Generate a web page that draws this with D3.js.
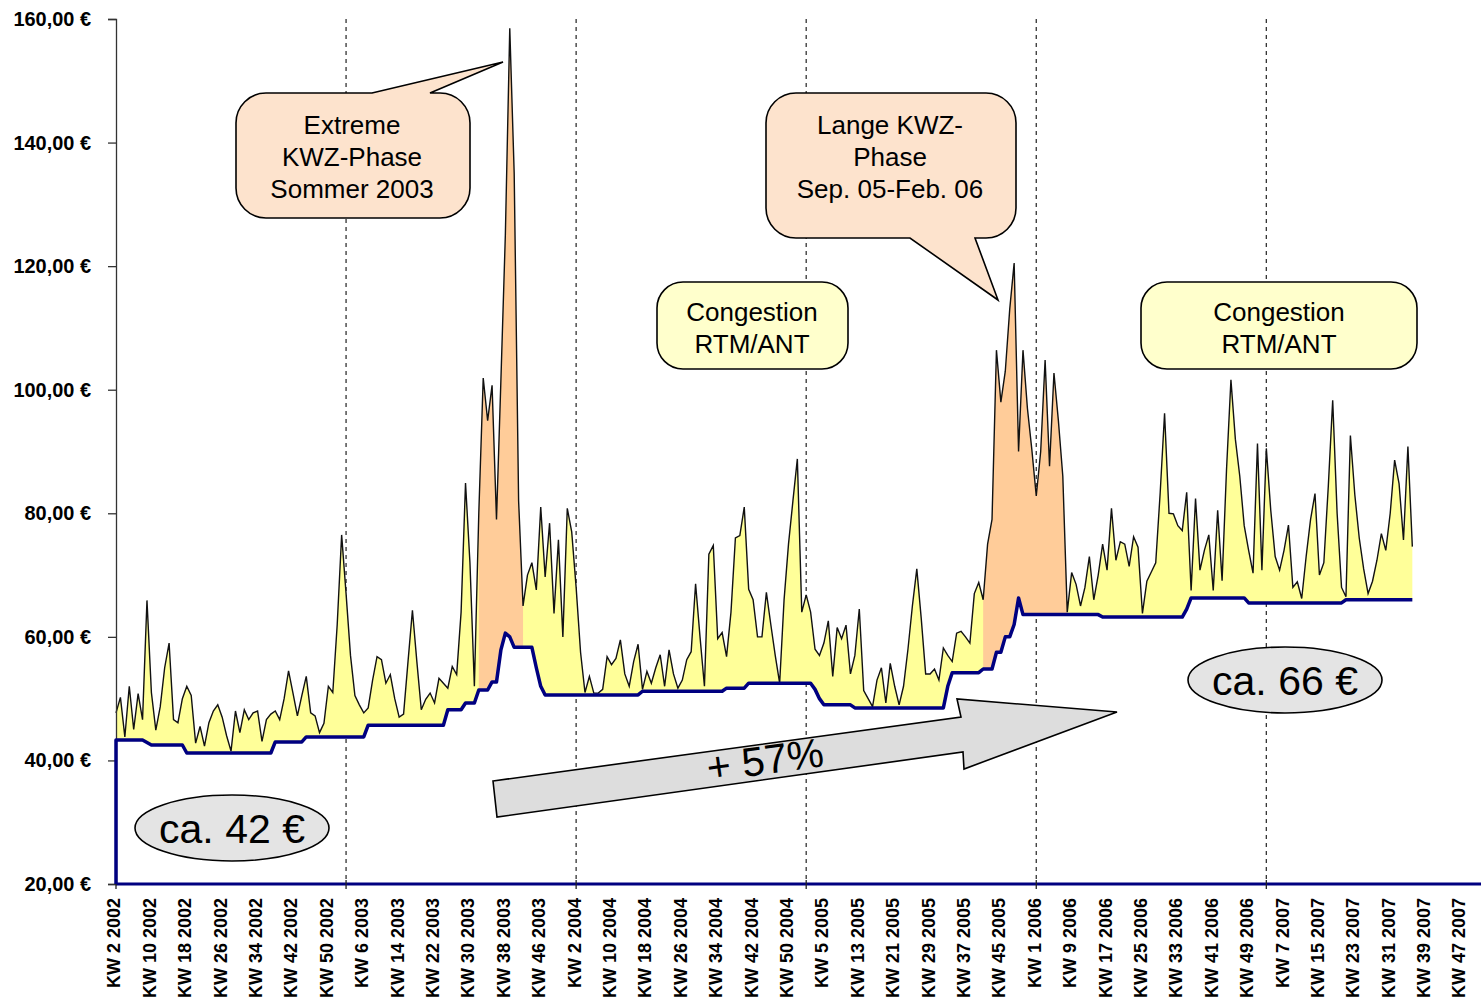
<!DOCTYPE html>
<html>
<head>
<meta charset="utf-8">
<script src="https://d3js.org/d3.v7.min.js"></script>
<style>
  body { margin: 0; background: #fff; }
  text { font-family: "Liberation Sans", Arial, sans-serif; }
</style>
</head>
<body>
<div id="chart"></div>
<script>
// weekly prices, KW 2 2002 .. KW 36 2007 (one value per week)
var priceValues = [
  47.7, 50.2, 43.8, 52, 45, 50.8, 46.6, 65.9, 51, 44.9,
  48.7, 55, 59, 46.6, 46.1, 50, 52, 50.5, 42.8, 45.5,
  42.3, 46.1, 48, 49, 47, 44, 41.5, 48, 44.5, 48.2,
  46.6, 47.7, 48, 43.1, 46.6, 47.5, 48, 46.6, 50, 54.5,
  50.9, 47.2, 50.5, 53.6, 47.7, 47.2, 44.5, 46, 52, 51,
  62, 76.5, 67, 57, 50.5, 49, 47.7, 48.5, 53, 56.8,
  56.3, 52.5, 53.9, 50, 47, 47.5, 56, 64.3, 56, 48.2,
  49.9, 50.9, 49.3, 53.3, 52.5, 51.7, 55.2, 53.9, 64, 84.9,
  72, 52, 80, 101.9, 95, 100.7, 79, 101.6, 125, 158.5,
  135, 82, 65, 70, 72, 67.6, 81, 69.7, 78.4, 63.8,
  75.7, 60, 80.8, 77, 68, 57.5, 51, 53.6, 50.9, 50.9,
  51.5, 56.8, 55.5, 56.5, 59.5, 54, 52, 56, 58.8, 51.5,
  54.4, 52.5, 55, 57.1, 52, 57.9, 54, 51.7, 53, 56.3,
  57.6, 68.6, 60, 52, 73.4, 74.8, 59.7, 60.7, 56.8, 64,
  76, 76.4, 81, 67.7, 66, 60, 60, 67.2, 62, 57,
  52.5, 66, 75, 82, 88.8, 64, 66.8, 64, 58, 57,
  59, 62.6, 53.6, 61.5, 59.7, 61.9, 54, 57, 64.5, 51.3,
  50, 48.7, 53, 55, 49.3, 55.7, 52, 49, 52, 58,
  65, 71, 63, 54, 54, 54.8, 53, 58.2, 57, 56,
  60.6, 60.9, 60, 59, 67, 68.8, 66, 75, 79, 106.4,
  98, 103, 113, 120.5, 90, 106.4, 97, 90.3, 82.8, 90,
  104.8, 87.6, 102.7, 95, 86, 64, 70.4, 68.5, 65, 68,
  73, 66, 70, 75, 70.8, 80.8, 72.4, 75.4, 75, 71.4,
  76.2, 74.5, 63.8, 69, 70.5, 72, 83.2, 96.2, 80, 79.9,
  78, 77.2, 83.4, 67.5, 82.4, 70.8, 74, 76.5, 67.5, 80.5,
  69.1, 87, 101.6, 92, 86, 78, 74, 70.3, 91.3, 70.8,
  90.5, 80.5, 73, 70.8, 74, 78.1, 68, 68.9, 66.2, 73,
  79, 83.2, 70, 72, 84.3, 98.3, 80, 68, 66.5, 92.6,
  83, 76, 71, 67, 69, 72.4, 76.7, 74, 80, 88.6,
  84.8, 75.7, 90.8, 74.6
];

// base level (dark blue line), same weeks
var baseValues = [
  43.3, 43.3, 43.3, 43.3, 43.3, 43.3, 43.3, 42.9, 42.5, 42.5,
  42.5, 42.5, 42.5, 42.5, 42.5, 42.5, 41.2, 41.2, 41.2, 41.2,
  41.2, 41.2, 41.2, 41.2, 41.2, 41.2, 41.2, 41.2, 41.2, 41.2,
  41.2, 41.2, 41.2, 41.2, 41.2, 41.2, 43.0, 43.0, 43.0, 43.0,
  43.0, 43.0, 43.0, 43.8, 43.8, 43.8, 43.8, 43.8, 43.8, 43.8,
  43.8, 43.8, 43.8, 43.8, 43.8, 43.8, 43.8, 45.7, 45.7, 45.7,
  45.7, 45.7, 45.7, 45.7, 45.7, 45.7, 45.7, 45.7, 45.7, 45.7,
  45.7, 45.7, 45.7, 45.7, 45.7, 48.2, 48.2, 48.2, 48.2, 49.3,
  49.3, 49.3, 51.4, 51.4, 51.4, 52.7, 52.7, 57.9, 60.6, 60,
  58.3, 58.3, 58.3, 58.3, 58.3, 55, 52, 50.6, 50.6, 50.6,
  50.6, 50.6, 50.6, 50.6, 50.6, 50.6, 50.6, 50.6, 50.6, 50.6,
  50.6, 50.6, 50.6, 50.6, 50.6, 50.6, 50.6, 50.6, 50.6, 51.2,
  51.2, 51.2, 51.2, 51.2, 51.2, 51.2, 51.2, 51.2, 51.2, 51.2,
  51.2, 51.2, 51.2, 51.2, 51.2, 51.2, 51.2, 51.2, 51.7, 51.7,
  51.7, 51.7, 51.7, 52.5, 52.5, 52.5, 52.5, 52.5, 52.5, 52.5,
  52.5, 52.5, 52.5, 52.5, 52.5, 52.5, 52.5, 52.5, 51.5, 50,
  49.0, 49.0, 49.0, 49.0, 49.0, 49.0, 49.0, 48.5, 48.5, 48.5,
  48.5, 48.5, 48.5, 48.5, 48.5, 48.5, 48.5, 48.5, 48.5, 48.5,
  48.5, 48.5, 48.5, 48.5, 48.5, 48.5, 48.5, 48.5, 52, 54.2,
  54.2, 54.2, 54.2, 54.2, 54.2, 54.2, 54.8, 54.8, 54.8, 57.5,
  57.5, 60, 60, 62, 66.3, 63.6, 63.6, 63.6, 63.6, 63.6,
  63.6, 63.6, 63.6, 63.6, 63.6, 63.6, 63.6, 63.6, 63.6, 63.6,
  63.6, 63.6, 63.6, 63.2, 63.2, 63.2, 63.2, 63.2, 63.2, 63.2,
  63.2, 63.2, 63.2, 63.2, 63.2, 63.2, 63.2, 63.2, 63.2, 63.2,
  63.2, 63.2, 64.5, 66.3, 66.3, 66.3, 66.3, 66.3, 66.3, 66.3,
  66.3, 66.3, 66.3, 66.3, 66.3, 66.3, 65.5, 65.5, 65.5, 65.5,
  65.5, 65.5, 65.5, 65.5, 65.5, 65.5, 65.5, 65.5, 65.5, 65.5,
  65.5, 65.5, 65.5, 65.5, 65.5, 65.5, 65.5, 65.5, 66, 66,
  66, 66, 66, 66, 66, 66, 66, 66, 66, 66,
  66, 66, 66, 66
];

// KWZ phases (week index ranges drawn in orange)
var kwzPhases = [[82, 92], [196, 215]];

// category labels, every 8th week
var weekLabels = [
  "KW 2 2002", "KW 10 2002", "KW 18 2002", "KW 26 2002", "KW 34 2002", "KW 42 2002", "KW 50 2002",
  "KW 6 2003", "KW 14 2003", "KW 22 2003", "KW 30 2003", "KW 38 2003", "KW 46 2003",
  "KW 2 2004", "KW 10 2004", "KW 18 2004", "KW 26 2004", "KW 34 2004", "KW 42 2004", "KW 50 2004",
  "KW 5 2005", "KW 13 2005", "KW 21 2005", "KW 29 2005", "KW 37 2005", "KW 45 2005",
  "KW 1 2006", "KW 9 2006", "KW 17 2006", "KW 25 2006", "KW 33 2006", "KW 41 2006", "KW 49 2006",
  "KW 7 2007", "KW 15 2007", "KW 23 2007", "KW 31 2007", "KW 39 2007", "KW 47 2007"
];
var labelStep = 8;
var yearStarts = [52, 104, 156, 208, 260];
var yTicks = [20, 40, 60, 80, 100, 120, 140, 160];

var w = 1481;
var h = 1004;

var svg = d3.select("#chart")
  .append("svg")
  .attr("width", w)
  .attr("height", h)
  .style("background", "#fff");

var xScale = d3.scaleLinear()
  .domain([0, 304])
  .range([116, 1461]);

var yScale = d3.scaleLinear()
  .domain([20, 160])
  .range([884, 19]);

var rows = priceValues.map(function(p, i) {
  return { i: i, price: p, base: baseValues[i] };
});

// year separators (behind the areas)
svg.selectAll("line.year")
  .data(yearStarts)
  .enter()
  .append("line")
  .attr("class", "year")
  .attr("x1", function(d) { return xScale(d); })
  .attr("x2", function(d) { return xScale(d); })
  .attr("y1", yScale(160))
  .attr("y2", yScale(20))
  .attr("stroke", "#333")
  .attr("stroke-width", 1.3)
  .attr("stroke-dasharray", "4,4");

var area = d3.area()
  .x(function(d) { return xScale(d.i); })
  .y0(function(d) { return yScale(d.base); })
  .y1(function(d) { return yScale(d.price); });

svg.append("path")
  .datum(rows)
  .attr("d", area)
  .attr("fill", "#ffff99");

kwzPhases.forEach(function(ph) {
  svg.append("path")
    .datum(rows.slice(ph[0], ph[1] + 1))
    .attr("d", area)
    .attr("fill", "#ffcc99");
});

var priceLine = d3.line()
  .x(function(d) { return xScale(d.i); })
  .y(function(d) { return yScale(d.price); });

svg.append("path")
  .datum(rows)
  .attr("d", priceLine)
  .attr("fill", "none")
  .attr("stroke", "#111")
  .attr("stroke-width", 1.4);

// axes
var yAxis = d3.axisLeft(yScale)
  .tickValues(yTicks)
  .tickSize(8)
  .tickFormat("");

svg.append("g")
  .attr("transform", "translate(116,0)")
  .call(yAxis)
  .call(function(g) {
    g.select(".domain").attr("stroke", "#333").attr("stroke-width", 1.3);
    g.selectAll(".tick line").attr("stroke", "#333").attr("stroke-width", 1.3);
  });

svg.selectAll("text.ylab")
  .data(yTicks)
  .enter()
  .append("text")
  .attr("class", "ylab")
  .attr("transform", function(d) {
    return "translate(91," + (yScale(d) + 7) + ") scale(0.95,1)";
  })
  .attr("text-anchor", "end")
  .style("font-size", "21px")
  .style("font-weight", "bold")
  .text(function(d) { return d3.format(".2f")(d).replace(".", ",") + " €"; });

// x axis (dark blue, the base series runs along it)
svg.append("line")
  .attr("x1", xScale(0))
  .attr("x2", w)
  .attr("y1", yScale(20))
  .attr("y2", yScale(20))
  .attr("stroke", "#000080")
  .attr("stroke-width", 3);

svg.selectAll("line.xtick")
  .data([0].concat(yearStarts))
  .enter()
  .append("line")
  .attr("class", "xtick")
  .attr("x1", function(d) { return xScale(d); })
  .attr("x2", function(d) { return xScale(d); })
  .attr("y1", yScale(20) - 4)
  .attr("y2", yScale(20) + 5)
  .attr("stroke", "#222")
  .attr("stroke-width", 1.3);

svg.selectAll("text.xlab")
  .data(weekLabels)
  .enter()
  .append("text")
  .attr("class", "xlab")
  .attr("transform", function(d, i) {
    return "translate(" + (xScale(i * labelStep) - 2) + ",898) rotate(-90)";
  })
  .attr("text-anchor", "end")
  .attr("dy", "0.36em")
  .style("font-size", "18px")
  .style("font-weight", "bold")
  .text(function(d) { return d; });

// base level line
var baseLine = d3.line()
  .x(function(d) { return xScale(d.i); })
  .y(function(d) { return yScale(d.base); });

svg.append("path")
  .datum([{ i: 0, base: 20 }].concat(rows))
  .attr("d", baseLine)
  .attr("fill", "none")
  .attr("stroke", "#000080")
  .attr("stroke-width", 3.5)
  .attr("stroke-linejoin", "round");

// ---- annotations ----
function callout(x0, y0, x1, y1, r, ptr) {
  var p = "M" + (x0 + r) + "," + y0;
  if (ptr && ptr.side === "top") {
    p += "L" + ptr.a + "," + y0 + "L" + ptr.tx + "," + ptr.ty + "L" + ptr.b + "," + y0;
  }
  p += "L" + (x1 - r) + "," + y0;
  p += "A" + r + "," + r + " 0 0 1 " + x1 + "," + (y0 + r);
  p += "L" + x1 + "," + (y1 - r);
  p += "A" + r + "," + r + " 0 0 1 " + (x1 - r) + "," + y1;
  if (ptr && ptr.side === "bottom") {
    p += "L" + ptr.b + "," + y1 + "L" + ptr.tx + "," + ptr.ty + "L" + ptr.a + "," + y1;
  }
  p += "L" + (x0 + r) + "," + y1;
  p += "A" + r + "," + r + " 0 0 1 " + x0 + "," + (y1 - r);
  p += "L" + x0 + "," + (y0 + r);
  p += "A" + r + "," + r + " 0 0 1 " + (x0 + r) + "," + y0 + "Z";
  return p;
}

var notes = [
  { box: [236, 93, 470, 218], r: 30, fill: "#fde3cd",
    ptr: { side: "top", a: 372, b: 430, tx: 503, ty: 62 },
    cx: 352, lines: ["Extreme", "KWZ-Phase", "Sommer 2003"], y: 134 },
  { box: [766, 93, 1016, 238], r: 30, fill: "#fde3cd",
    ptr: { side: "bottom", a: 910, b: 975, tx: 998, ty: 300 },
    cx: 890, lines: ["Lange KWZ-", "Phase", "Sep. 05-Feb. 06"], y: 134 },
  { box: [657, 282, 848, 369], r: 26, fill: "#ffffcc", ptr: null,
    cx: 752, lines: ["Congestion", "RTM/ANT"], y: 321 },
  { box: [1141, 282, 1417, 369], r: 26, fill: "#ffffcc", ptr: null,
    cx: 1279, lines: ["Congestion", "RTM/ANT"], y: 321 }
];

notes.forEach(function(n) {
  svg.append("path")
    .attr("d", callout(n.box[0], n.box[1], n.box[2], n.box[3], n.r, n.ptr))
    .attr("fill", n.fill)
    .attr("stroke", "#000")
    .attr("stroke-width", 1.6);
  svg.append("g").selectAll("text")
    .data(n.lines)
    .enter()
    .append("text")
    .attr("x", n.cx)
    .attr("y", function(d, i) { return n.y + i * 32; })
    .attr("text-anchor", "middle")
    .style("font-size", "26px")
    .text(function(d) { return d; });
});

// growth arrow
var arrowPts = [[493, 781], [961, 717], [957, 699], [1117, 712], [964, 769], [963, 752], [497, 817]];
svg.append("path")
  .attr("d", d3.line()(arrowPts) + "Z")
  .attr("fill", "#dddddd")
  .attr("stroke", "#000")
  .attr("stroke-width", 1.6);

svg.append("text")
  .attr("transform", "translate(767,774) rotate(-7.8)")
  .attr("text-anchor", "middle")
  .style("font-size", "41px")
  .text("+ 57%");

var ovals = [
  { cx: 232, cy: 828, label: "ca. 42 €" },
  { cx: 1285, cy: 680, label: "ca. 66 €" }
];

ovals.forEach(function(o) {
  svg.append("ellipse")
    .attr("cx", o.cx)
    .attr("cy", o.cy)
    .attr("rx", 97)
    .attr("ry", 33)
    .attr("fill", "#e4e4e4")
    .attr("stroke", "#000")
    .attr("stroke-width", 1.6);
  svg.append("text")
    .attr("x", o.cx)
    .attr("y", o.cy + 15)
    .attr("text-anchor", "middle")
    .style("font-size", "41px")
    .text(o.label);
});
</script>
</body>
</html>
